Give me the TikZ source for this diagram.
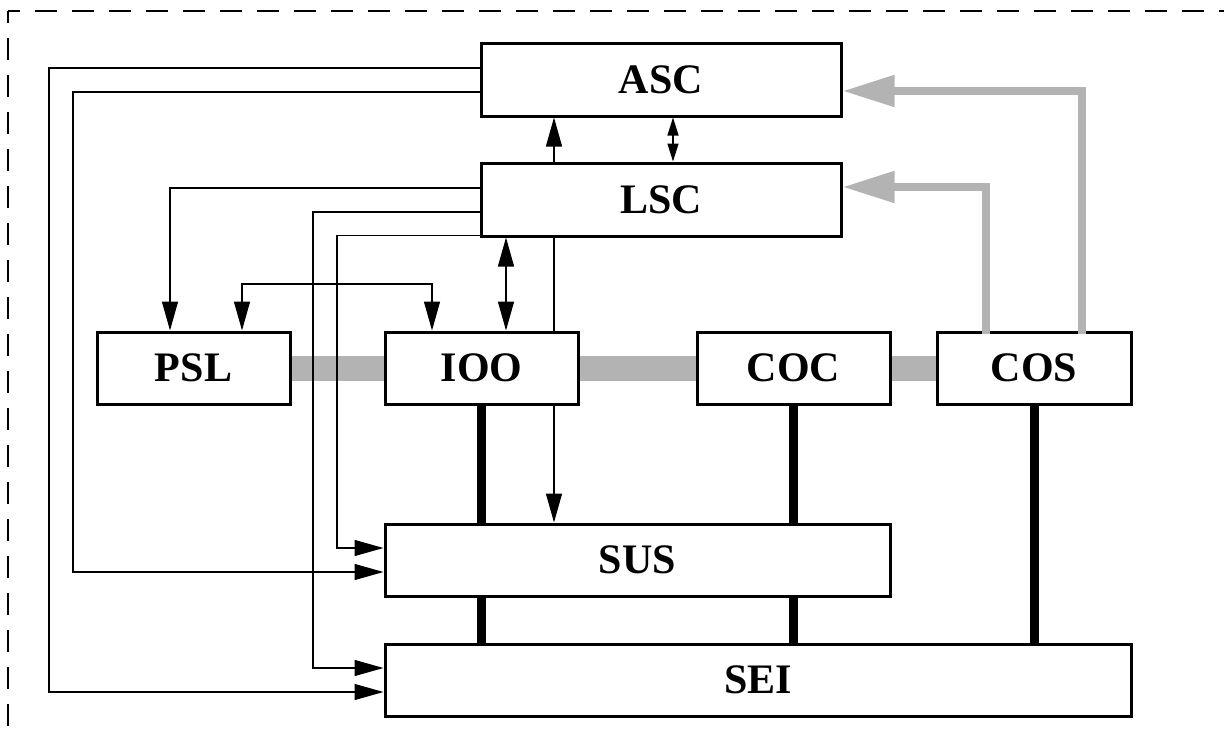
\documentclass[tikz,border=0pt]{standalone}
\usepackage{fontspec}
\setmainfont{Liberation Serif}
\usetikzlibrary{arrows.meta}
\definecolor{gcol}{RGB}{179,179,179}
\pgfdeclarelayer{background}
\pgfsetlayers{background,main}
\tikzset{
  box/.style={draw=black, fill=white, line width=3pt, inner sep=0pt,
    font=\bfseries\fontsize{42}{50}\selectfont},
  thin/.style={line width=1.3pt},
  arr/.style={thin, -{Triangle[length=29pt,width=16pt]}},
  darr/.style={thin, {Triangle[length=29pt,width=16pt]}-{Triangle[length=29pt,width=16pt]}},
  sdarr/.style={thin, {Triangle[length=18pt,width=11pt]}-{Triangle[length=18pt,width=11pt]}},
  garr/.style={line width=8pt, draw=gcol, -{Triangle[length=52pt,width=30pt]}},
  band/.style={line width=25pt, draw=gcol},
  bar/.style={line width=9pt, draw=black},
  frame/.style={line width=1.3pt, dash pattern=on 22pt off 15pt, dash phase=10pt}
}
\begin{document}
\begin{tikzpicture}[x=1pt,y=-1pt]
\useasboundingbox (0,0) rectangle (1224,736);
% dashed frame
\coordinate (corner) at (8,11);
\draw[frame] (corner) -- (1240,11);
\draw[frame] (corner) -- (8,760);
% boxes
\node[box, minimum width=360pt, minimum height=73pt] (ASC) at (661,79.5) {ASC};
\node[box, minimum width=360pt, minimum height=73pt] (LSC) at (661,199.5) {LSC};
\node[box, minimum width=193pt, minimum height=72pt] (PSL) at (193.5,368) {PSL};
\node[box, minimum width=193pt, minimum height=72pt] (IOO) at (481.5,368) {IOO};
\node[box, minimum width=193pt, minimum height=72pt] (COC) at (793.5,368) {COC};
\node[box, minimum width=194pt, minimum height=72pt] (COS) at (1034,368) {COS};
\node[box, minimum width=505pt, minimum height=72pt] (SUS) at (637.5,560) {SUS};
\node[box, minimum width=746pt, minimum height=72pt] (SEI) at (758,680) {SEI};
\begin{pgfonlayer}{background}
  \draw[band] (PSL.center) -- (COS.center);
  \draw[bar] (IOO.south) -- (IOO.south |- SUS.north);
  \draw[bar] (IOO.south |- SUS.south) -- (IOO.south |- SEI.north);
  \draw[bar] (COC.south) -- (COC.south |- SUS.north);
  \draw[bar] (COC.south |- SUS.south) -- (COC.south |- SEI.north);
  \draw[bar] (COS.south) -- (COS.south |- SEI.north);
  \draw[darr] ([xshift=-107pt]ASC.south) -- ([xshift=-83.5pt]SUS.north);
\end{pgfonlayer}
% thin connectors
\draw[arr] ([yshift=11.5pt]ASC.west) -- (49,68) |- ([yshift=-12pt]SEI.west);
\draw[arr] ([yshift=-12.5pt]ASC.west) -- (73,92) |- ([yshift=-12pt]SUS.west);
\draw[arr] ([yshift=11.5pt]LSC.west) -| ([xshift=-23.5pt]PSL.north);
\draw[arr] ([yshift=-12.5pt]LSC.west) -- (313,212) |- ([yshift=12pt]SEI.west);
\draw[arr] ([yshift=1.8pt]LSC.south west) -- (337,235.7) |- ([yshift=12pt]SUS.west);
\draw[darr] ([xshift=48.5pt]PSL.north) -- (242,284) -| ([xshift=-49.5pt]IOO.north);
\draw[darr] ([xshift=-155pt]LSC.south) -- ([xshift=24.5pt]IOO.north);
\draw[sdarr] ([xshift=12pt]ASC.south) -- ([xshift=12pt]LSC.north);
% gray arrows
\draw[garr] ([xshift=48pt,yshift=-3pt]COS.north) |- ([yshift=-11.5pt]ASC.east);
\draw[garr] ([xshift=-48pt,yshift=-3pt]COS.north) |- ([yshift=12.5pt]LSC.east);
\end{tikzpicture}
\end{document}
